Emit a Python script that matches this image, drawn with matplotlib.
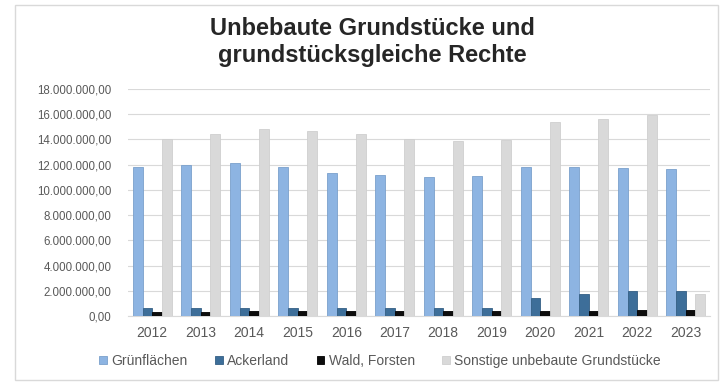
import matplotlib
matplotlib.use("Agg")
import matplotlib.pyplot as plt
import numpy as np
from matplotlib.patches import Rectangle
from matplotlib.ticker import FuncFormatter, MultipleLocator

plt.rcParams['font.family'] = ['Liberation Sans', 'DejaVu Sans']

years = ["2012", "2013", "2014", "2015", "2016", "2017", "2018", "2019",
         "2020", "2021", "2022", "2023"]
gruenflaechen = [11.85e6, 12.0e6, 12.1e6, 11.8e6, 11.35e6, 11.2e6, 11.0e6, 11.1e6,
                 11.8e6, 11.8e6, 11.75e6, 11.65e6]
ackerland = [0.6e6, 0.6e6, 0.65e6, 0.6e6, 0.6e6, 0.6e6, 0.6e6, 0.6e6,
             1.45e6, 1.75e6, 1.95e6, 1.95e6]
wald = [0.3e6, 0.3e6, 0.4e6, 0.4e6, 0.4e6, 0.4e6, 0.4e6, 0.4e6,
        0.4e6, 0.4e6, 0.45e6, 0.45e6]
sonstige = [14.05e6, 14.4e6, 14.85e6, 14.7e6, 14.4e6, 14.0e6, 13.85e6, 13.95e6,
            15.35e6, 15.6e6, 15.95e6, 1.75e6]
series_names = ["Grünflächen", "Ackerland", "Wald, Forsten", "Sonstige unbebaute Grundstücke"]
title = "Unbebaute Grundstücke und\ngrundstücksgleiche Rechte"

fig = plt.figure(figsize=(7.22, 3.82), dpi=100)
W, H = 722, 382
fig.patches.append(Rectangle((15 / W, 1 - 380 / H), (718 - 15) / W, (380 - 5) / H,
                             transform=fig.transFigure, facecolor='white',
                             edgecolor='#D9D9D9', linewidth=1.0, zorder=-10))

ax = fig.add_axes([128 / W, 1 - 316 / H, (710 - 128) / W, (316 - 89) / H])
ax.set_facecolor('none')
ax.set_zorder(2)

x = np.arange(len(years))
bw = 0.2
colors = ['#8DB4E2', '#3D6E99', '#0D0D0D', '#D9D9D9']
edges = ['#7AA0CC', '#345F85', '#000000', '#CFCFCF']
data = [gruenflaechen, ackerland, wald, sonstige]
offsets = [-1.5, -0.5, 0.5, 1.5]
handles = []
for vals, off, c, e, name in zip(data, offsets, colors, edges, series_names):
    h = ax.bar(x + off * bw, vals, width=bw, color=c, edgecolor=e, linewidth=0.6,
               label=name, zorder=3)
    handles.append(h)

ax.set_xlim(-0.5, len(years) - 0.5)
ax.set_ylim(0, 18e6)
ax.yaxis.set_major_locator(MultipleLocator(2e6))

def de_fmt(v, pos):
    s = f"{v:,.2f}"
    return s.replace(",", "X").replace(".", ",").replace("X", ".")

ax.yaxis.set_major_formatter(FuncFormatter(de_fmt))
ax.set_xticks(x)
ax.set_xticklabels(years)
ax.grid(axis='y', color='#D9D9D9', linewidth=0.8, zorder=0)
for s in ['top', 'right', 'left']:
    ax.spines[s].set_visible(False)
ax.spines['bottom'].set_color('#D9D9D9')
ax.tick_params(axis='both', length=0, colors='#595959')
ax.tick_params(axis='x', pad=7, labelsize=10)
ax.tick_params(axis='y', pad=12, labelsize=8.3)

fig.text(372 / W, 1 - 42 / H, title, ha='center', va='center', fontsize=17,
         fontweight='bold', color='#262626', linespacing=1.25)

fig.legend(handles=handles, labels=series_names, loc='center',
           bbox_to_anchor=(380 / W, 1 - 361 / H), ncol=4, frameon=False,
           fontsize=10, handlelength=0.55, handleheight=0.55, handletextpad=0.3,
           columnspacing=2.0, labelcolor='#595959')

fig.savefig("out.png", dpi=100)
